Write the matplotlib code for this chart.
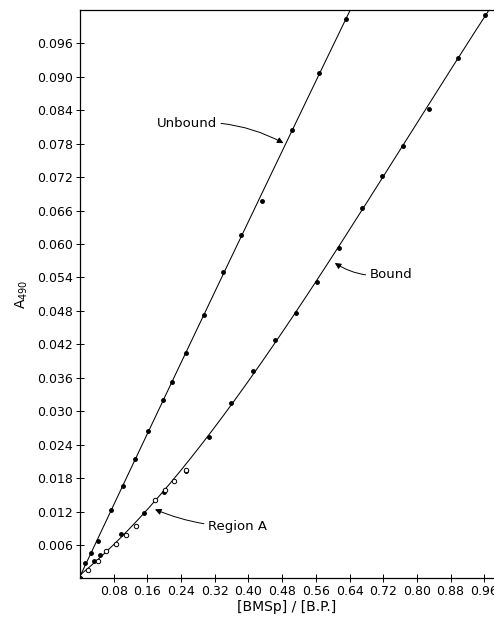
import matplotlib
matplotlib.use("Agg")
import matplotlib.pyplot as plt
import numpy as np

# values
unbound_x = [0.0, 0.0119, 0.0254, 0.0420, 0.0736, 0.1014, 0.1306, 0.1621, 0.1963,
             0.2177, 0.2509, 0.2944, 0.3402, 0.3815, 0.4328, 0.5026, 0.5681, 0.6308]
unbound_y = [0.0, 0.0027, 0.0046, 0.0067, 0.0122, 0.0166, 0.0214, 0.0264, 0.0320,
             0.0353, 0.0404, 0.0473, 0.0550, 0.0616, 0.0678, 0.0804, 0.0907, 0.1004]

bound_x = [0.0, 0.0332, 0.0475, 0.0980, 0.1512, 0.1994, 0.2509, 0.3062, 0.3585,
           0.4100, 0.4629, 0.5121, 0.5626, 0.6142, 0.6688, 0.7177, 0.7661,
           0.8285, 0.8967, 0.9615]
bound_y = [0.0, 0.0031, 0.0042, 0.0079, 0.0117, 0.0156, 0.0193, 0.0253, 0.0314,
           0.0373, 0.0428, 0.0477, 0.0532, 0.0592, 0.0664, 0.0722, 0.0776,
           0.0842, 0.0934, 0.1011]

region_a_x = [0.020, 0.0427, 0.0624, 0.0862, 0.1099, 0.1337, 0.1773, 0.2011, 0.2232, 0.2524]
region_a_y = [0.0016, 0.0031, 0.0049, 0.0062, 0.0078, 0.0094, 0.0141, 0.0159, 0.0175, 0.0195]

x_ticks = [0.08, 0.16, 0.24, 0.32, 0.40, 0.48, 0.56, 0.64, 0.72, 0.80, 0.88, 0.96]
y_ticks = [0.006, 0.012, 0.018, 0.024, 0.030, 0.036, 0.042, 0.048,
           0.054, 0.060, 0.066, 0.072, 0.078, 0.084, 0.090, 0.096]

X_MAX = 0.983
Y_MAX = 0.102

plt.rcParams["font.family"] = ["DejaVu Sans"]

fig = plt.figure(figsize=(4.94, 6.20), dpi=100)
ax = fig.add_axes([0.162, 0.067, 0.838, 0.917])

# smooth fitted curves through the measured points
ub_fit = np.polyfit(unbound_x, unbound_y, 2)
ub_xs = np.linspace(0, 0.66, 200)
ub_ys = np.polyval(ub_fit, ub_xs)
ax.plot(ub_xs, ub_ys, color="black", lw=0.75)

b_fit = np.polyfit(bound_x, bound_y, 3)
b_xs = np.linspace(0, X_MAX, 300)
b_ys = np.polyval(b_fit, b_xs)
ax.plot(b_xs, b_ys, color="black", lw=0.75)

ax.plot(unbound_x, unbound_y, "o", ms=2.5, color="black")
ax.plot(bound_x, bound_y, "o", ms=2.5, color="black")
ax.plot(region_a_x, region_a_y, "o", ms=3.2, mfc="white", mec="black", mew=0.7)

ax.set_xlim(0, X_MAX)
ax.set_ylim(0, Y_MAX)

ax.set_xticks(x_ticks)
ax.set_xticklabels([f"{v:.2f}" for v in x_ticks])
ax.set_yticks(y_ticks)
ax.set_yticklabels([f"{v:.3f}" for v in y_ticks])
ax.tick_params(direction="inout", length=6, width=0.7, labelsize=9, pad=2)

for side in ("left", "bottom", "top"):
    ax.spines[side].set_linewidth(0.9)
ax.spines["right"].set_visible(False)

ax.set_xlabel("[BMSp] / [B.P.]", fontsize=10, labelpad=1)
ax.set_ylabel(r"A$_{490}$", fontsize=10, labelpad=5)

arrow = dict(arrowstyle="-|>", color="black", lw=0.7, mutation_scale=9,
             shrinkA=1, shrinkB=0)
ax.annotate("Unbound", xy=(0.483, 0.0781), xytext=(0.325, 0.0817),
            ha="right", va="center", fontsize=9.5,
            arrowprops=dict(arrow, connectionstyle="arc3,rad=-0.15"))
ax.annotate("Bound", xy=(0.605, 0.0566), xytext=(0.688, 0.0546),
            ha="left", va="center", fontsize=9.5,
            arrowprops=dict(arrow, connectionstyle="arc3,rad=-0.2"))
ax.annotate("Region A", xy=(0.178, 0.0124), xytext=(0.304, 0.0093),
            ha="left", va="center", fontsize=9.5,
            arrowprops=dict(arrow, connectionstyle="arc3,rad=-0.1"))

fig.savefig("out.png", dpi=100)
